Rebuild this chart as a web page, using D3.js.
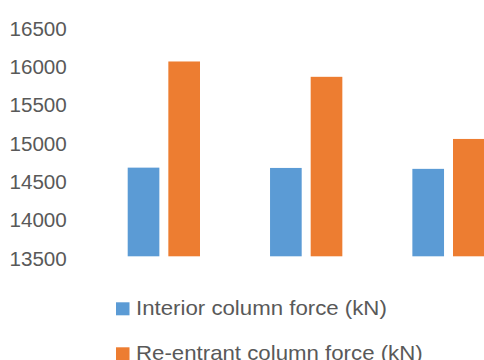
<!DOCTYPE html>
<html>
<head>
<meta charset="utf-8">
<script src="https://cdn.jsdelivr.net/npm/d3@7"></script>
<style>
  html, body { margin: 0; padding: 0; background: #fff; }
  svg { display: block; }
  text { font-family: "Liberation Sans", Arial, sans-serif; fill: #595959; }
</style>
</head>
<body>
<svg id="chart" width="484" height="360"></svg>
<script>
// Column axial forces for three cases
const categories = ["Case 1", "Case 2", "Case 3"];
const seriesNames = ["Interior column force (kN)", "Re-entrant column force (kN)"];
const interiorForce = [14656, 14652, 14640];
const reentrantForce = [16040, 15840, 15030];
const yTicks = [13500, 14000, 14500, 15000, 15500, 16000, 16500];
const colors = ["#5B9BD5", "#ED7D31"];

const series = [interiorForce, reentrantForce];
const rows = categories.map((c, i) => ({ cat: c, values: series.map(s => s[i]) }));

const svg = d3.select("#chart");

const y = d3.scaleLinear().domain([13500, 16500]).range([256.3, 26.2]);
const x0 = d3.scaleBand().domain(categories).range([92.6, 519.6]).paddingInner(0).paddingOuter(0);
const x1 = d3.scaleBand().domain(d3.range(series.length)).range([35.1, 107.4]).paddingInner(0.221).paddingOuter(0);

// Y axis labels (no axis line or gridlines)
const yAxis = d3.axisLeft(y).tickValues(yTicks).tickSize(0).tickPadding(0).tickFormat(d3.format("d"));
const gy = svg.append("g").attr("transform", "translate(66.8,0)").call(yAxis);
gy.select(".domain").remove();
gy.selectAll(".tick text")
  .attr("font-size", 20)
  .attr("font-family", null)
  .attr("fill", "#595959")
  .attr("x", null)
  .attr("dy", null)
  .attr("transform", function () {
    const w = this.getComputedTextLength();
    return `translate(0,8.8) scale(${57.4 / w},1)`;
  });

// Bars
const groups = svg.append("g").selectAll("g")
  .data(rows).join("g")
  .attr("transform", d => `translate(${x0(d.cat)},0)`);

groups.selectAll("rect")
  .data(d => d.values.map((v, i) => ({ v, i })))
  .join("rect")
  .attr("x", d => x1(d.i))
  .attr("width", x1.bandwidth())
  .attr("y", d => y(d.v))
  .attr("height", d => y(13500) - y(d.v))
  .attr("fill", d => colors[d.i]);

// Legend
const legend = svg.append("g").selectAll("g")
  .data(seriesNames).join("g")
  .attr("transform", (d, i) => `translate(116,${302.3 + i * 45})`);
legend.append("rect").attr("width", 13.5).attr("height", 13).attr("fill", (d, i) => colors[i]);
const legendText = legend.append("text").attr("font-size", 20).text(d => d);
const stretch = 251 / legendText.node().getComputedTextLength();
legendText.attr("transform", `translate(20,12.7) scale(${stretch},1)`);
</script>
</body>
</html>
